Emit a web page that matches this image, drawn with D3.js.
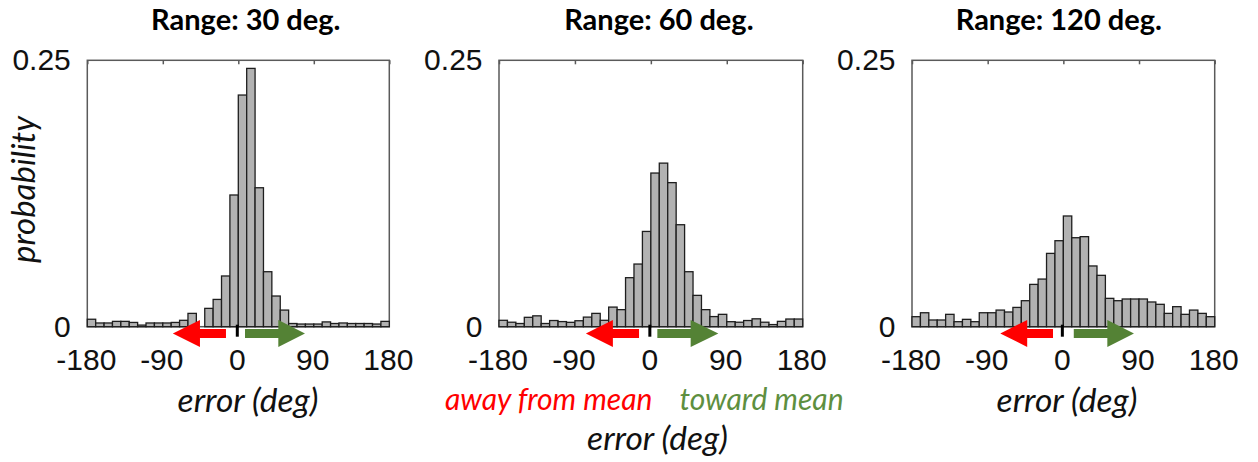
<!DOCTYPE html>
<html><head><meta charset="utf-8">
<script src="https://cdn.jsdelivr.net/npm/d3@7"></script>
<style>body{margin:0;background:#fff}svg{display:block}</style>
</head><body>
<svg id="chart" width="1258" height="462"></svg>
<script>
// ---- data ----
const binStarts = [-180,-170,-160,-150,-140,-130,-120,-110,-100,-90,-80,-70,-60,-50,-40,-30,-20,-10,0,10,20,30,40,50,60,70,80,90,100,110,120,130,140,150,160,170];
const binWidth = 10;
const titles = ["Range: 30 deg.", "Range: 60 deg.", "Range: 120 deg."];
const prob30 = [0.007,0.0035,0.0035,0.005,0.005,0.004,0.0015,0.0035,0.0035,0.0035,0.004,0.006,0.0125,0,0.0172,0.0256,0.0476,0.1236,0.2174,0.2424,0.1304,0.0516,0.0288,0.0156,0.003,0.0025,0.0025,0.0025,0.0045,0.003,0.0035,0.003,0.003,0.003,0.0025,0.005];
const prob60 = [0.006,0.0042,0.003,0.0088,0.0102,0.003,0.0058,0.0048,0.0041,0.0056,0.009,0.0125,0.006,0.0184,0.016,0.046,0.0588,0.0894,0.1442,0.1535,0.1352,0.0957,0.0516,0.0294,0.016,0.0095,0.0116,0.0047,0.0042,0.0058,0.0074,0.0042,0.002,0.005,0.0072,0.0072];
const prob120 = [0.0094,0.0131,0.0063,0.0063,0.0116,0.0047,0.0069,0.0047,0.0131,0.0131,0.0156,0.0138,0.0181,0.0244,0.0397,0.0447,0.0688,0.0807,0.1039,0.0835,0.0845,0.057,0.0482,0.0266,0.0244,0.026,0.026,0.026,0.0232,0.021,0.0125,0.0188,0.0116,0.0156,0.0125,0.0094];
const series = [prob30, prob60, prob120];
const xTicks = [-180,-90,0,90,180];
const yTicks = [0,0.25];
const yTickLabels = ["0","0.25"];
const xLabel = "error (deg)";
const yLabel = "probability";
const awayLabel = "away from mean";
const towardLabel = "toward mean";

// ---- layout ----
const plotTop = 60.3, plotBottom = 326.7;
const panels = [
  {left:87.3, right:389.3, titleDx:7.5, arrows:{redTip:-78, redBase:-45.7, redEnd:-14.7, greenStart:8, greenBase:47.7, greenTip:79.5}},
  {left:499, right:802.7, titleDx:8, arrows:{redTip:-77, redBase:-45, redEnd:-14, greenStart:7.7, greenBase:47.2, greenTip:80}},
  {left:912, right:1214.7, titleDx:-4.5, arrows:{redTip:-75, redBase:-43, redEnd:-12.3, greenStart:12.4, greenBase:52.3, greenTip:84}}
];
const RED = "#ff0000", GREEN = "#548235";
const numFont = "'Liberation Sans', Arial, sans-serif";
const textFont = "Lato, 'Open Sans', sans-serif";

const svg = d3.select("#chart");

panels.forEach((p, i) => {
  const x = d3.scaleLinear().domain([-180,180]).range([p.left, p.right]);
  const y = d3.scaleLinear().domain([0,0.25]).range([plotBottom, plotTop]);
  const g = svg.append("g");

  // frame
  g.append("rect").attr("x", p.left).attr("y", plotTop)
    .attr("width", p.right - p.left).attr("height", plotBottom - plotTop)
    .attr("fill", "none").attr("stroke", "#5a5a5a").attr("stroke-width", 1.5);

  // top axis ticks (inward)
  const topAxis = g.append("g").attr("transform", `translate(0,${plotTop})`)
    .call(d3.axisTop(x).tickValues(xTicks).tickSizeInner(-4).tickSizeOuter(0).tickFormat(""));
  topAxis.select(".domain").remove();
  topAxis.selectAll("line").attr("stroke", "#5a5a5a").attr("stroke-width", 1.5);

  // bars
  g.append("g").selectAll("rect").data(binStarts).join("rect")
    .attr("x", d => x(d))
    .attr("width", d => x(d + binWidth) - x(d))
    .attr("y", (d, k) => y(series[i][k]))
    .attr("height", (d, k) => y(0) - y(series[i][k]))
    .attr("fill", "#b2b2b2").attr("stroke", "#1e1e1e").attr("stroke-width", 1.3);

  // bottom axis labels
  const bAxis = g.append("g").attr("transform", `translate(-1.5,${plotBottom})`)
    .call(d3.axisBottom(x).tickValues(xTicks).tickSize(0).tickPadding(22).tickFormat(d => String(d)));
  bAxis.select(".domain").remove();
  bAxis.selectAll("text").attr("font-family", numFont).attr("font-size", 30).attr("fill", "#111");

  // left axis labels
  const lAxis = g.append("g").attr("transform", `translate(${p.left},0)`)
    .call(d3.axisLeft(y).tickValues(yTicks).tickSize(0).tickPadding(16.5).tickFormat((d, k) => yTickLabels[k]));
  lAxis.select(".domain").remove();
  lAxis.selectAll("text").attr("font-family", numFont).attr("font-size", 30).attr("fill", "#111");

  // arrows
  const a = p.arrows;
  const cy = plotBottom + 6.7, hh = 13.5, sh = 4.5;
  const redPts = [[x(a.redTip), cy],[x(a.redBase), cy - hh],[x(a.redBase), cy - sh],[x(a.redEnd), cy - sh],[x(a.redEnd), cy + sh],[x(a.redBase), cy + sh],[x(a.redBase), cy + hh]];
  const greenPts = [[x(a.greenTip), cy],[x(a.greenBase), cy - hh],[x(a.greenBase), cy - sh],[x(a.greenStart), cy - sh],[x(a.greenStart), cy + sh],[x(a.greenBase), cy + sh],[x(a.greenBase), cy + hh]];
  g.append("polygon").attr("points", redPts.map(d => d.join(",")).join(" ")).attr("fill", RED);
  g.append("polygon").attr("points", greenPts.map(d => d.join(",")).join(" ")).attr("fill", GREEN);

  // zero marker
  g.append("rect").attr("x", x(0) - 2.5).attr("y", plotBottom - 2).attr("width", 3).attr("height", 12).attr("fill", "#000");

  // title
  g.append("text").attr("x", (p.left + p.right) / 2 + p.titleDx).attr("y", 30)
    .attr("text-anchor", "middle").attr("font-family", textFont).attr("font-weight", "bold")
    .attr("font-size", 29).attr("fill", "#000").text(titles[i]);
});

// axis titles
function lab(xp, yp, txt, color, size) {
  svg.append("text").attr("x", xp).attr("y", yp).attr("text-anchor", "middle")
    .attr("font-family", textFont).attr("font-style", "italic").attr("font-size", size)
    .attr("fill", color).text(txt);
}
lab(248, 411.7, xLabel, "#111", 33.5);
lab(1067, 412.3, xLabel, "#111", 33.5);
lab(657.5, 450, xLabel, "#111", 33.5);
lab(548.7, 409.5, awayLabel, RED, 30);
lab(761.5, 409.5, towardLabel, "#5e8f3f", 30);

svg.append("text").attr("transform", "translate(35,189.5) rotate(-90)")
  .attr("text-anchor", "middle").attr("font-family", textFont).attr("font-style", "italic")
  .attr("font-size", 33).attr("fill", "#111").text(yLabel);
</script>
</body></html>
